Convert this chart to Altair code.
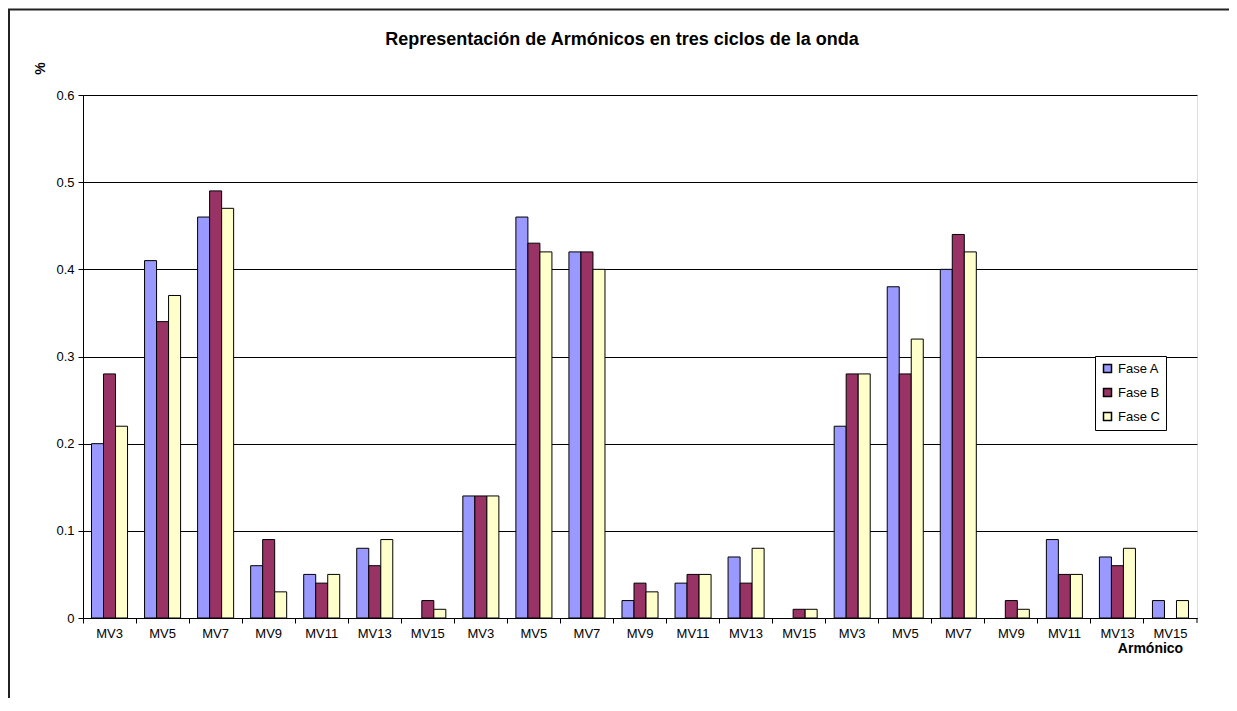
import altair as alt
import pandas as pd

labels = ["MV3", "MV5", "MV7", "MV9", "MV11", "MV13", "MV15",
          "MV3", "MV5", "MV7", "MV9", "MV11", "MV13", "MV15",
          "MV3", "MV5", "MV7", "MV9", "MV11", "MV13", "MV15"]
fase_a = [0.20, 0.41, 0.46, 0.06, 0.05, 0.08, 0.00,
          0.14, 0.46, 0.42, 0.02, 0.04, 0.07, 0.00,
          0.22, 0.38, 0.40, 0.00, 0.09, 0.07, 0.02]
fase_b = [0.28, 0.34, 0.49, 0.09, 0.04, 0.06, 0.02,
          0.14, 0.43, 0.42, 0.04, 0.05, 0.04, 0.01,
          0.28, 0.28, 0.44, 0.02, 0.05, 0.06, 0.00]
fase_c = [0.22, 0.37, 0.47, 0.03, 0.05, 0.09, 0.01,
          0.14, 0.42, 0.40, 0.03, 0.05, 0.08, 0.01,
          0.28, 0.32, 0.42, 0.01, 0.05, 0.08, 0.02]
series = ["Fase A", "Fase B", "Fase C"]
colors = ["#9999FF", "#993366", "#FFFFCC"]
y_ticks = [0, 0.1, 0.2, 0.3, 0.4, 0.5, 0.6]
title_text = "Representación de Armónicos en tres ciclos de la onda"

rows = []
for i, lab in enumerate(labels):
    for s, vals in zip(series, [fase_a, fase_b, fase_c]):
        rows.append({"idx": i, "armonico": lab, "fase": s, "valor": vals[i]})
df = pd.DataFrame(rows)

label_expr = "[" + ",".join("'%s'" % l for l in labels) + "][datum.value]"
FONT = "Liberation Sans"

W, H = 1114, 523

bars = alt.Chart(df).transform_filter("datum.valor > 0").mark_bar(
    stroke="black", strokeWidth=1
).encode(
    x=alt.X("idx:O",
            scale=alt.Scale(paddingInner=0, paddingOuter=0),
            axis=alt.Axis(title="Armónico", labelExpr=label_expr, labelAngle=0,
                          bandPosition=0, tickSize=5,
                          tickColor="black", domainColor="black",
                          labelFont=FONT, labelFontSize=13, labelColor="black",
                          labelPadding=4,
                          titleFont=FONT, titleFontSize=14, titleFontWeight="bold",
                          titleColor="black", titleX=1067, titleY=30,
                          titleAlign="center", titleBaseline="middle")),
    xOffset=alt.XOffset("fase:N", sort=series,
                        scale=alt.Scale(paddingInner=0, paddingOuter=0.708)),
    y=alt.Y("valor:Q",
            scale=alt.Scale(domain=[0, 0.6], nice=False),
            axis=alt.Axis(title="%", values=y_ticks,
                          labelExpr="format(datum.value, '~g')",
                          grid=True, gridColor="black", gridWidth=1,
                          tickSize=5, tickColor="black", domainColor="black",
                          labelFont=FONT, labelFontSize=13, labelColor="black",
                          labelPadding=4,
                          titleFont=FONT, titleFontSize=14, titleFontWeight="bold",
                          titleColor="black", titleX=-43, titleY=-27,
                          titleAngle=270, titleAlign="center",
                          titleBaseline="middle")),
    color=alt.Color("fase:N",
                    scale=alt.Scale(domain=series, range=colors),
                    legend=alt.Legend(title=None, orient="none",
                                      legendX=1012, legendY=261,
                                      strokeColor="black", fillColor="white",
                                      padding=6, symbolType="square",
                                      symbolSize=64, symbolStrokeColor="black",
                                      symbolStrokeWidth=1.5,
                                      labelFont=FONT, labelFontSize=13,
                                      labelColor="black", rowPadding=9,
                                      labelOffset=4)),
)

aux = pd.DataFrame({"a": [0]})

frame = alt.Chart(aux).mark_rect(
    filled=False, stroke="#222222", strokeWidth=2
).encode(
    x=alt.value(-74),
    x2=alt.value(1200),
    y=alt.value(-85.5),
    y2=alt.value(700),
)

end_tick = alt.Chart(aux).mark_rule(color="black").encode(
    x=alt.value(W), y=alt.value(H), y2=alt.value(H + 5)
)

title = alt.Chart(aux).mark_text(
    text=title_text, font=FONT, fontSize=18, fontWeight="bold",
    color="black", align="center", baseline="middle"
).encode(x=alt.value(539), y=alt.value(-55))

chart = alt.layer(frame, bars, end_tick, title).properties(
    width=W, height=H,
    autosize=alt.AutoSizeParams(type="none"),
    padding={"left": 75, "top": 87, "right": 32, "bottom": 80},
).configure_view(stroke=None).configure(background="white")

chart.save("out.html", embed_options={"renderer": "svg", "actions": False})
